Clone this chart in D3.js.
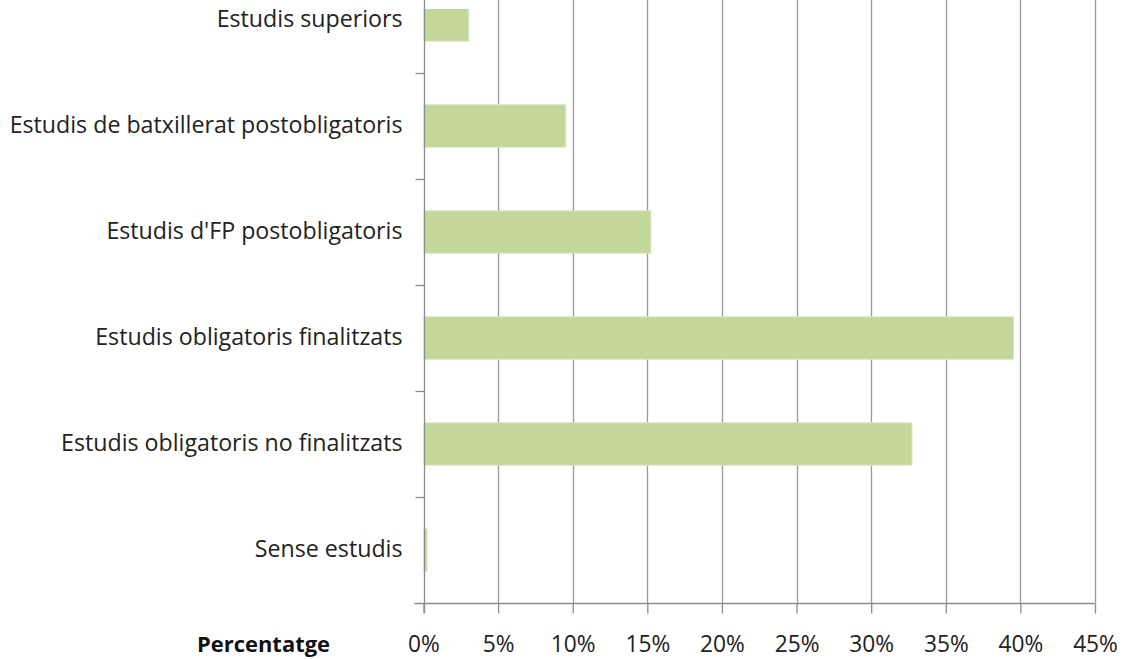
<!DOCTYPE html>
<html>
<head>
<meta charset="utf-8">
<script src="https://cdn.jsdelivr.net/npm/d3@7"></script>
<style>
  body { margin: 0; background: #fff; }
  svg { display: block; }
</style>
</head>
<body>
<svg class="chart"></svg>
<script>
// nivell d'estudis, barres horitzontals (de dalt a baix)
var categories = [
  "Estudis superiors",
  "Estudis de batxillerat postobligatoris",
  "Estudis d'FP postobligatoris",
  "Estudis obligatoris finalitzats",
  "Estudis obligatoris no finalitzats",
  "Sense estudis"
];
var values = [3.0, 9.5, 15.2, 39.5, 32.7, 0.2];
var tickValues = [0, 5, 10, 15, 20, 25, 30, 35, 40, 45];
var axisTitle = "Percentatge";

var width = 1126, height = 659;
var margin = { top: -33, right: 31, bottom: 56, left: 423.5 };
var font = "Open Sans, sans-serif";

var svg = d3.select(".chart")
  .attr("width", width)
  .attr("height", height);

var x = d3.scaleLinear()
  .domain([0, 45])
  .range([margin.left, width - margin.right]);

var y = d3.scaleBand()
  .domain(categories)
  .range([margin.top, height - margin.bottom])
  .paddingInner(0.6)
  .paddingOuter(0.3);

var yTop = margin.top, yBottom = height - margin.bottom;

// gridlines
svg.append("g")
  .selectAll("line")
  .data(tickValues.slice(1))
  .join("line")
  .attr("x1", function(d) { return Math.round(x(d)) + 0.5; })
  .attr("x2", function(d) { return Math.round(x(d)) + 0.5; })
  .attr("y1", yTop)
  .attr("y2", yBottom)
  .attr("stroke", "#9a9a9a")
  .attr("stroke-width", 1.3);

// la imatge original esta retallada per dalt
svg.append("clipPath").attr("id", "clip")
  .append("rect")
  .attr("x", 0).attr("y", 9)
  .attr("width", width).attr("height", height);

svg.append("g")
  .attr("clip-path", "url(#clip)")
  .selectAll("rect")
  .data(values)
  .join("rect")
  .attr("x", x(0) + 0.5)
  .attr("y", function(d, i) { return y(categories[i]); })
  .attr("width", function(d) { return x(d) - x(0); })
  .attr("height", y.bandwidth())
  .attr("fill", "#c4d79b")
  .attr("stroke", "#dbe6c4")
  .attr("stroke-width", 1);

// eix x
var xAxis = svg.append("g")
  .attr("transform", "translate(0," + (Math.round(yBottom) + 0.5) + ")")
  .call(d3.axisBottom(x)
    .tickValues(tickValues)
    .tickSize(10)
    .tickPadding(22)
    .tickFormat(function(d) { return d + "%"; }));
xAxis.select(".domain")
  .attr("d", "M" + (x(0) - 9) + ",0H" + x(45))
  .attr("stroke", "#8c8c8c").attr("stroke-width", 1.3);
xAxis.selectAll(".tick line").attr("stroke", "#8c8c8c").attr("stroke-width", 1.3);
xAxis.selectAll("text")
  .attr("fill", "#222")
  .style("font-family", font)
  .style("font-size", "19px");

// eix y
var yAxis = svg.append("g")
  .attr("transform", "translate(" + (Math.round(x(0)) + 0.5) + ",0)")
  .call(d3.axisLeft(y).tickSize(0).tickPadding(22));
yAxis.select(".domain")
  .attr("d", "M0," + yTop + "V" + (yBottom + 10))
  .attr("stroke", "#8c8c8c").attr("stroke-width", 1.3);
yAxis.selectAll("text")
  .attr("fill", "#222")
  .attr("dy", "0.32em")
  .style("font-family", font)
  .style("font-size", "19px");

// marques entre categories
yAxis.append("g")
  .selectAll("line")
  .data(d3.range(1, categories.length))
  .join("line")
  .attr("x1", -9).attr("x2", 0)
  .attr("y1", function(i) { return Math.round(yTop + (yBottom - yTop) * i / categories.length) + 0.5; })
  .attr("y2", function(i) { return Math.round(yTop + (yBottom - yTop) * i / categories.length) + 0.5; })
  .attr("stroke", "#8c8c8c").attr("stroke-width", 1.3);

// ajusta la mida del text a l'amplada del text original
var longest = yAxis.selectAll("text").filter(function(d) { return d === categories[1]; }).node();
var k = 393 / longest.getComputedTextLength();
var fs = 19 * k;
yAxis.selectAll("text").style("font-size", fs + "px");
xAxis.selectAll("text").style("font-size", (fs * 0.98) + "px");

var title = svg.append("text")
  .attr("x", 197)
  .attr("y", 652)
  .attr("fill", "#111")
  .style("font-family", font)
  .style("font-weight", "bold")
  .style("font-size", fs + "px")
  .text(axisTitle);
title.style("font-size", (fs * 133 / title.node().getComputedTextLength()) + "px");
</script>
</body>
</html>
